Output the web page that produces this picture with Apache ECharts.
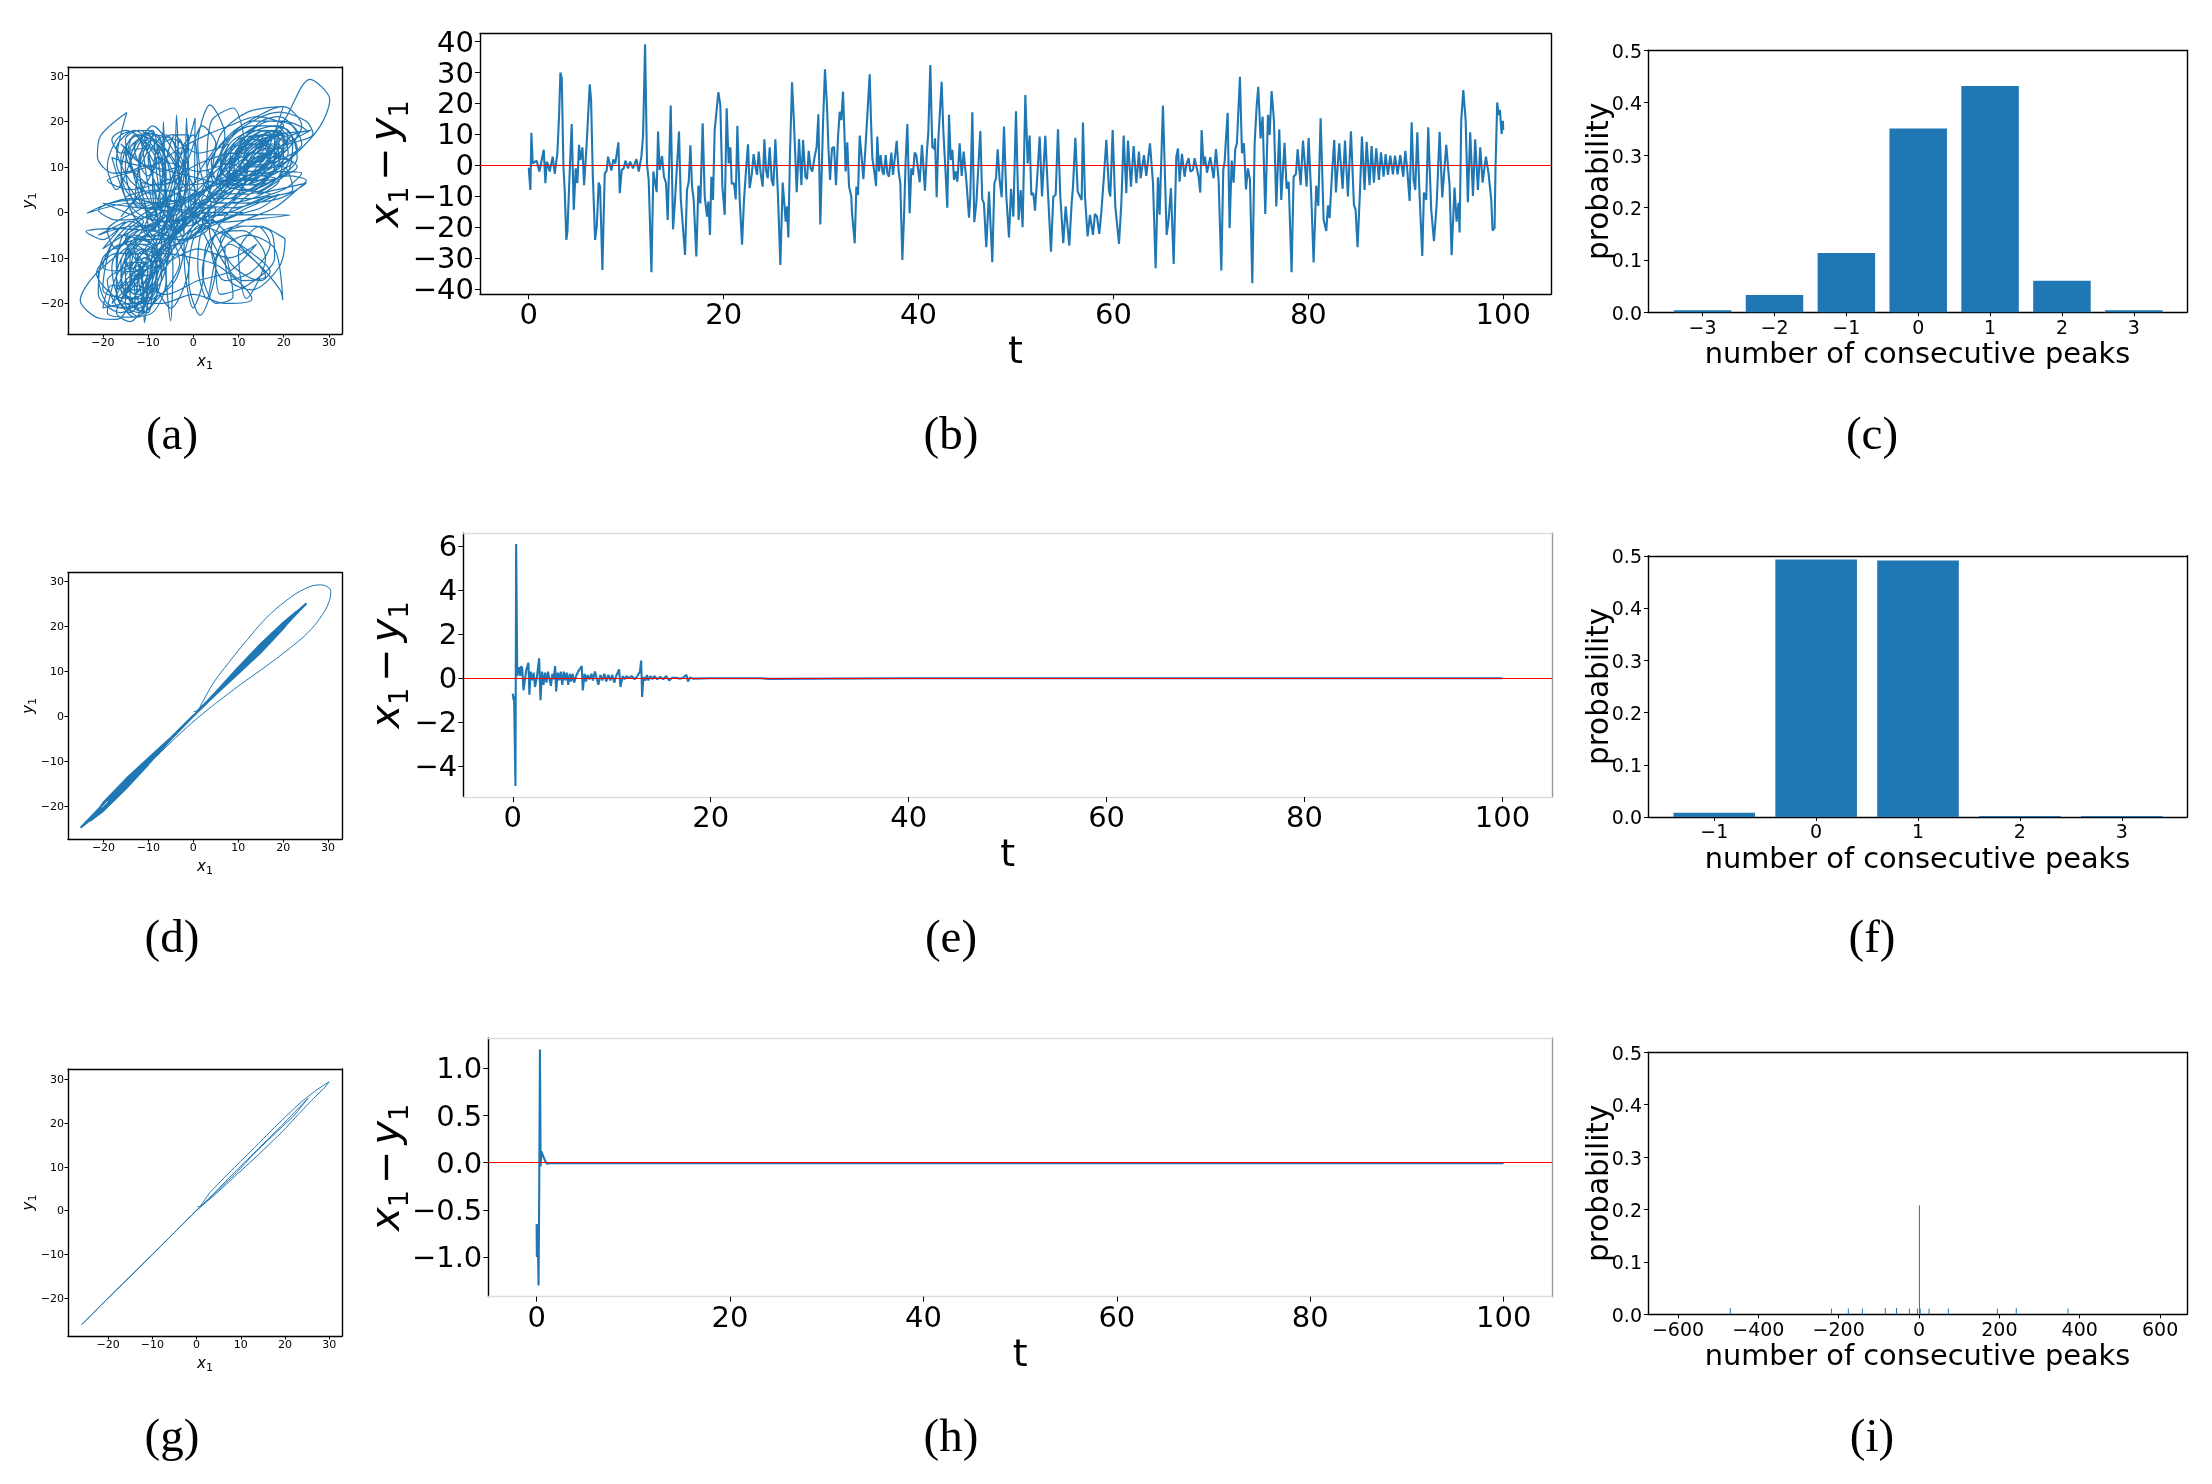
<!DOCTYPE html>
<html>
<head>
<meta charset="utf-8">
<script src="https://cdn.jsdelivr.net/npm/echarts@6/dist/echarts.min.js"></script>
<style>
  html, body { margin: 0; padding: 0; background: #fff; }
  #main { width: 2212px; height: 1484px; }
</style>
</head>
<body>
<div id="main"></div>
<script>
// phase portrait (a), [x1, y1]
var aTrace = [
  [1,1],[6,5],[13,12],[20,20],[25.8,29.2],[30.2,24.7],[28,18.8],[22,12.2],[14,6],[6,1],[0,-3],[-6,-10],[-12,-17],[-17,-23.5],[-20.6,-23.3],[-25,-19.3],[-22,-14],[-15,-8],[-8,-3],[-4,2],
  [-9,-8],[-13,-15],[-17,-22],[-14,-24],[-11,-20],[-12,-12],[-15,-6],[-12,-3],[-8,-7],[-9,-15],[-12,-22],[-16,-20],[-18,-12],[-14,-5],[-8,-3],[-6,-9],[-9,-17],[-14,-21],[-19,-20],[-21,-14],
  [-16,-7],[-10,-7],[-7,-12],[-10,-20],[-10.8,-24.2],[-11,-16],[-13,-8],[-10,-3],[-7,-6],[-8,-14],[-12,-20],[-16,-17],[-15,-10],[-11,-6],[-8,-10],[-10,-17],[-14,-19],[-17,-14],[-14,-8],[-9,-9],
  [-8,-16],[-12,-21],[-18,-18],[-21.4,-13.4],[-17,-9],[-11,-9],[-9,-13],[-12,-18],[-16,-16],[-14,-11],[-10,-11],[-11,-17],[-14,-17],[-13,-12],[-9,-6],[-4,-2],[-6,-13],[-5,-23.8],[-4.5,-12],[-7,-2],
  [-12,-7],[-17,-14],[-19,-22],[-15,-23],[-9,-22],[-6,-15],[-9,-6],[-14,-2],[-20,-6],[-23.7,-4.2],[-17,-3.5],[-9,-4],[-3,-3],[-8,-11],[-13,-19],[-20,-17],[-18,-7],[-12,-1],[-6,2],[-4,-6],
  [-8,-13],[-13,-14],[-15,-9],[-10,-4],[-5,-6],[-7,-15],[-11,-19],[-16,-22],[-21,-18],[-20,-10],[-13,-6],[-6,-5],[-3,-11],[-7,-18],[-13,-23],[-17,-17],[-16,-6],[-9,0],[-2,3],[4,6],
  [9,12],[15,17],[19,16],[17,10],[11,6],[6,8],[8,15],[14,18],[20,15],[19,8],[12,4],[6,5],[7,12],[12,17],[18,19],[22,14],[18,7],[10,6],[6,10],[10,16],[17,17],[20,12],[15,8],[9,9],[10,14],[16,15],
  [19,11],[14,7],[8,9],[9,15],[15,19],[21,18],[23,12],[16,6],[8,4],[4,8],[8,14],[14,15],[17,12],[13,9],[9,11],[12,15],[17,14],[15,10],[10,10],[13,14],[18,17],[25,18],[20,20],[13,20],
  [7,15],[6,9],[11,7],[18,9],[24,8.6],[20,5],[12,3],[5,3],[3,9],[8,17],[16,22],[20,23.2],[24,19],[20,13],[12,8],[6,6],[4,11],[10,18],[19,22],[25,20],[26.5,17.2],[18,14],[10,9],[5,7],
  [8,13],[14,13],[18,10],[13,5],[7,6],[10,13],[16,18],[22,16],[21,9],[14,4],[25,6.4],[19,3],[10,2],[3,3],[7,10],[13,16],[18,14],[14,11],[11,12],[15,16],[20,17],[16,12],[11,10],[8,7],
  [3,2],[-2,-3],[2,5],[7,17],[3.7,23.6],[1,15],[3,5],[8,3],[12,9],[8.8,22.9],[4,20],[3,10],[8,6],[15,11],[19.9,23.2],[12,22],[6,17],[4,9],[1,1],[-3,-4],[-8,-1],[-14,2],[-23.5,-0.2],[-18.4,2],
  [-9,3],[-3,2],[-10,-1],[-17,-1.7],[-21,0.5],[-14,3],[-5,1],[1.5,-0.2],[-7,-2],[-13,4],[-17,11],[-14.7,21.9],[-20.6,16.6],[-21.2,12.2],[-17.7,8.6],[-12,10],[-8.8,17.4],[-11,17],[-16,13],[-18,16],
  [-15,18],[-10,15],[-6,9],[-9,4],[-14,7],[-17,14],[-13,18],[-8,13],[-6,5],[-10,1],[-15,5],[-16,12],[-12,17],[-7,14],[-5,7],[-9,6],[-14,11],[-12,16],[-8,11],[-10,8],[-13,14],[-9,18],
  [-7,5],[-6.6,19.9],[-6,5],[-4.5,-3],[-3.7,21.4],[-3,6],[-2,-5],[-1.5,20.7],[-0.8,5],[0,-3],[0.4,20.7],[-2,12],[-5,3],[-7,-6],[-9,8],[-11,17.5],[-4,16],[1,13],[8,15],[3,8],
  [-4,5],[-11,4],[-16,-1],[-10,7],[-5,17],[-1,17],[-3,7],[-8,1],[-12,9],[-9,16],[-4,11],[-3,2],[-7,4],[-10,12],[-6,17],[-2,9],[-5,-1],[-9,-5],[-11,3],[-15,16],
  [-12,18],[-6,12],[-2,2],[2,-4],[5,-12],[1.5,-22.6],[-1,-15],[0,-6],[3,-3],[7,-9],[8.8,-18.5],[5,-20],[2,-13],[5,-5],[11,-4],[16,-10],[11.7,-18.9],[10,-9],[15,-3],[19,-5],
  [20.3,-6],[19,-12],[13,-17],[8,-15],[7,-8],[12,-5],[18,-8],[19.8,-19.3],[19.2,-17],[14,-11],[8,-7],[5,-11],[6,-18],[12,-16],[18,-10],[17,-4],[10,-3],[3,-7],[2,-16],[0,-21],
  [-2,-10],[1,-3],[9,-2],[21.4,-0.6],[14,-0.5],[4,-1],[10,-7],[16,-14],[11,-15],[4,-6],[3,1],[-3,-8],[-8,-16],[-5,-21],[-1,-12],[-4,-4],[1,2],[8,5],[14,8],[19,14],
  [22,17],[26,18],[17,13],[9,7],[3,1],[-4,-5],[-11,-12],[-15,-17],[-12,-13],[-7,-8],[-1,-1],[6,6],[12,11],[17,16],[14,14],[7,7],[0,0],[-7,-9],[-14,-16],[-18,-20],
  [-15,-15],[-9,-10],[-3,-4],[4,3],[11,10],[16,13],[12,10],[5,4],[-2,-2],[-10,-11],[-16,-19],[-13,-16],[-6,-7],[1,1],[8,8],[15,13],[18,18],[13,16],[6,10],[-2,3],
  [-13,2],[-11,15],[-8,17],[-6,8],[-8,-1],[-10,6],[-12,16],[-14,14],[-12,4],[-9,-2],[-7,7],[-4,17],[-2,13],[-4,2],[-7,-3],[-9,5],[-8,14],[-5,16],[-3,6],[-5,-2],
  [-8,3],[-10,13],[-13,17],[-15,10],[-12,1],[-7,1],[-4,9],[-3,16],[-1,9],[-3,0],[-6,-1],[-8,8],[-9,16],[-12,12],[-11,3],[-8,-3],[-5,5],[-2,15],[0,17],[1,7],
  [-1,-2],[-4,-5],[-6,3],[-7,12],[-10,17],[-14,16],[-16,8],[-13,-1],[-9,-4],[-6,4],[-3,12],[-1,15],[-2,4],[-5,-4],
  [-9,-12],[-11,-21],[-13,-17],[-12,-9],[-9,-8],[-10,-16],[-12,-23],[-15,-20],[-15,-12],[-12,-7],[-8,-9],[-8,-18],[-11,-22],[-14,-18],[-14,-10],[-11,-8],[-9,-14],[-10,-22],[-13,-21],[-16,-14],
  [-13,-7],[-10,-10],[-11,-18],[-14,-22],[-17,-18],[-17,-10],[-13,-5],[-9,-7],[-7,-14],[-10,-21],[-12,-15],[-11,-10],[-9,-11],[-12,-19],[-15,-18],[-16,-11],[-12,-6],[-8,-8],[-9,-18],[-13,-20],
  [-12,-12],[-13,-10],[-11,-14],[-14,-15],[-13,-9],[-10,-13],[-13,-18],[-15,-14],[-11,-11],[-12,-17],[-14,-13],[-10,-8],[-6,-6],[-2,-1],
  [3,3],[8,6],[11,5],[6,0],[0,-4],[-6,-6],[-10,-5],[-6,0],[0,3],[6,8],[2,4],[-3,-1],[-8,-6],[-11,-4],[-7,2],[-1,5],[4,2],[1,-4],[-4,-7],[-9,-9],
  [-5,-3],[0,1],[5,1],[3,-4],[-2,-6],[-7,-5],[-3,1],[3,5],[9,8],[4,1],[-1,-3],[-5,-1],[-1,3],[5,6],[12,9],[7,3],[1,0],[-4,-2],
  [7,9],[11,14],[15,16],[17,12],[13,7],[9,8],[10,14],[14,17],[18,16],[18,10],[13,6],[8,8],[11,15],[16,18],[20,16],[18,9],[12,5],[9,10],[13,16],[17,17],
  [19,12],[14,9],[10,9],[12,13],[16,16],[19,18],[21,13],[16,9],[11,8],[10,12],[14,15],[18,15],[16,10],[12,8],[8,10],[12,17],[17,20],[22,19],[24,15],[18,11],
  [12,10],[9,7],[7,11],[11,16],[15,20],[19,21],[23,17],[17,11],[13,10],[11,11],[14,14],[17,15],[15,11],[12,11],[15,15],[19,17],[17,13],[13,12],[16,14],[20,14],[15,9],[9,6],[5,2],
  [2,-2],[7,-5],[13,-9],[17,-13],[15,-15],[9,-12],[6,-6],[11,-2],[18,1],[23,5],[25,7],[21,8],[14,5],[7,-1],[4,-8],[7,-15],[13,-13],[17,-7],[14,-3],[8,-4],
  [5,-10],[3,-19],[1,-12],[2,-4],[8,-1],[15,1],[19,4],[12,1],[5,-2],[0,-1],[-6,-3],
  [-13,-3],[-21,-5],[-15,-2],[-20,-8],[-17,-6],[-11,-2],[-15,0],[-20,2],[-12,1],[-5,0],[-11,-3],
  [-18,12],[-10,10],[-3,14],[3,17],[8,19],[14,21],[20,19],[16,15],[8,11],[1,9],[-6,11],[-13,9],[-19,7],[-14,5],[-6,7],[2,11],[9,13],[17,13],[23,10],[16,7],
  [7,7],[-1,6],[-9,9],[-16,15],[-12,11],[-5,9],[3,7],[10,5],[17,4],[9,1],[1,2],[-7,5],[-15,3],[-11,-1],[-4,-2],[3,0],[11,0],[4,-3],[-3,-6],[-10,-6],
  [-16,-5],[-20,-12],[-13,-13],[-6,-11],[1,-8],[8,-10],[14,-7],[8,-13],[1,-15],[-6,-18],[-13,-16],[-18,-16],[-20,-21],[-14,-20],[-7,-20],[0,-18],[7,-20],[13,-19],[6,-12],[0,-10],
  [-7,-9],[-15,-12],[-19,-15],[-16,-21],[-9,-19],[-4,-15],[-2,-7],[-6,-2],[-12,-4],[-17,-8],[-19,-4],[-13,0],[-8,2],[-2,0],[3,-2],[0,6],[-4,13],[-9,19],[-13,13],[-17,5],
  [-19,10],[-16,17],[-10,18],[-5,12],[-1,5],[2,10],[5,15],[2,19],[-1,12],[-4,7],[-8,6],[-12,7],[-15,13],[-11,14],[-7,9],[-3,10],[-1,2],[-5,-7],[-10,-14],[-14,-12],
  [-17,-17],[-11,-13],[-6,-8],[-1,-6],[4,-1],[9,3],[14,9],[20,10],[22,5],[15,3],[8,0],[2,-1],[6,3],[12,7],[16,11],[21,15],[16,17],[11,13],[7,8],[10,11],
  [13,13],[17,18],[21,16],[15,12],[11,9],[14,12],[18,12],[22,11],[17,8],[12,6],[15,8],[19,7],[13,3],[6,2],[3,6],[5,11],[9,17],[13,19],[19,19],[23,14],[19,10]
];

// difference x1 - y1 against time (b), [t, value]
var bTrace = [
  [0,-0.8],[0.03,-1],[0.17,-8],[0.27,10.5],[0.41,0.6],[0.55,0.1],[0.82,1.5],[0.96,1.2],[1.09,-2],[1.3,1.2],[1.54,5],[1.71,-5.8],[1.85,1.2],[1.98,0.1],[2.15,-2],[2.46,2.8],[2.67,-2.8],[2.94,3.9],[3.11,15.7],[3.25,30],
  [3.39,28.1],[3.56,-0.4],[3.69,-8],[3.86,-24.1],[3.97,-21.4],[4.17,-4.7],[4.41,13.3],[4.62,-14.4],[4.82,-1],[4.99,-5.8],[5.16,6.6],[5.3,1.7],[5.51,5.8],[5.68,-6.4],[5.95,7.1],[6.26,26.2],[6.4,21.1],[6.57,-2.6],[6.81,-24.1],[6.98,-19.8],
  [7.18,-5.6],[7.32,-6.9],[7.56,-33.8],[7.8,-2.6],[8,-1.7],[8.14,2.8],[8.28,2.6],[8.48,-1.7],[8.69,1.9],[8.89,0.6],[9.2,7.4],[9.34,-9],[9.54,-1.5],[9.75,-1],[9.92,1.5],[10.19,-1],[10.4,1.2],[10.7,-1],[11.05,2],[11.29,-2],
  [11.56,2.8],[11.73,9.3],[11.94,39.1],[12.14,0.1],[12.31,-4.7],[12.59,-34.6],[12.79,-2],[12.96,-2.6],[13.13,-8.7],[13.27,10.9],[13.44,-1.5],[13.68,3],[13.88,-3.7],[14.09,-5.8],[14.26,-17.7],[14.57,19.3],[14.81,-20.7],[14.98,-12.8],[15.18,-12.3],[15.42,10.9],
  [15.6,-10.7],[15.77,-10.7],[16.04,-29],[16.24,-8],[16.42,-5.3],[16.59,6.5],[16.76,-6.9],[16.93,-11.2],[17.2,-29.5],[17.41,-6.6],[17.61,-12.3],[17.85,13.6],[18.06,-10.1],[18.3,-16.6],[18.43,-11.7],[18.6,-22.5],[18.74,-3.7],[18.91,-11.2],[19.08,11.4],[19.25,11.9],
  [19.46,23.6],[19.66,19.5],[19.87,-6.9],[20.11,-16],[20.31,18.4],[20.52,0.6],[20.69,5.8],[20.83,-6],[21.07,-5.8],[21.24,-11],[21.41,12.8],[21.65,-11.2],[21.89,-25.7],[22.09,-11.2],[22.3,-1.5],[22.5,6.8],[22.67,-7.4],[22.88,-3.1],[23.08,3.6],[23.29,-1],
  [23.43,-3.1],[23.6,4.4],[23.8,-2.6],[24.01,-6.9],[24.18,8.4],[24.35,-1.5],[24.52,-4.2],[24.73,5.8],[24.93,-4.7],[25.1,-6.7],[25.31,8.4],[25.58,-10.1],[25.82,-32.2],[26.06,-5.6],[26.2,-5.8],[26.37,-18.2],[26.5,-13.3],[26.64,-23.3],[26.81,3.9],[27.02,26.8],
  [27.22,13.6],[27.5,-8.7],[27.74,8.5],[27.98,-6.4],[28.15,8.2],[28.39,-3.7],[28.56,-4.5],[28.73,4.7],[28.93,-1],[29.1,-2],[29.34,2.8],[29.55,6],[29.72,16.5],[29.92,-19.1],[30.2,13.6],[30.4,31],[30.61,18.9],[30.75,6],[30.92,-4.7],[31.12,5.5],
  [31.33,6],[31.53,-6.4],[31.74,9.3],[31.91,17.3],[32.08,14.6],[32.25,23.8],[32.42,8.2],[32.52,-2],[32.69,7.4],[32.87,-6.9],[33.1,-10.1],[33.17,-15.2],[33.34,-15.5],[33.45,-25.2],[33.62,-6.9],[33.79,-9.6],[33.96,9.6],[34.13,3.9],[34.34,-4.5],[34.54,5],
  [34.71,5.5],[34.99,29.4],[35.12,14.6],[35.26,2.3],[35.46,-2],[35.64,-6.7],[35.77,9.3],[35.94,-2],[36.11,3.3],[36.29,-2],[36.42,-3.1],[36.63,3.3],[36.8,-2.6],[36.97,-3.7],[37.21,4.1],[37.38,-3.1],[37.55,-3.7],[37.76,7.9],[37.96,-2],[38.13,-5.8],
  [38.34,-30.6],[38.51,-16.6],[38.68,1.7],[38.85,13.3],[39.09,-15.5],[39.26,-1],[39.43,-3.1],[39.6,4.1],[39.77,3.3],[39.94,3.9],[40.12,-5.5],[40.35,6.6],[40.49,6.6],[40.66,-8.2],[40.87,5],[41,10.3],[41.21,32.4],[41.41,6],[41.62,5.2],[41.69,8.7],
  [41.86,-10.3],[42.03,8.2],[42.37,27],[42.54,11.4],[42.78,-2.6],[42.95,-13.7],[43.13,16.3],[43.3,1.7],[43.47,5],[43.64,-4.7],[43.81,-2],[43.98,-5.3],[44.22,7.1],[44.43,-3.4],[44.63,4.4],[44.9,-4.7],[45.18,-16.9],[45.31,-10.1],[45.52,17.1],[45.72,-18.4],
  [45.93,-12.3],[46.13,-12.3],[46.34,11.1],[46.54,-11],[46.71,-12.3],[46.95,-26.5],[47.23,-8.5],[47.37,-9],[47.57,-31.3],[47.78,-5.8],[47.95,-4.2],[48.12,5.2],[48.32,-4.7],[48.53,-10.3],[48.77,12.5],[49.01,-10.1],[49.28,-23.3],[49.49,-7.6],[49.73,-16.6],[50,17.5],
  [50.27,-17.7],[50.48,-8],[50.68,-20],[50.96,22.7],[51.2,0.6],[51.4,9.6],[51.57,-9.6],[51.78,-9],[51.95,-14.7],[52.15,-5.3],[52.43,9.3],[52.67,-10.1],[53.01,9.5],[53.25,-6.9],[53.59,-27.9],[53.83,-10.1],[54.07,-9.6],[54.31,11.6],[54.55,-10.1],[54.85,-25.2],
  [55.1,-13.3],[55.23,-13.3],[55.47,-26],[55.71,-12.3],[55.85,-6.9],[56.09,8.9],[56.33,-8.5],[56.53,-8.8],[56.74,-11.2],[56.87,13.8],[57.08,-10.1],[57.35,-23],[57.59,-16],[57.9,-22.5],[58.1,-15.7],[58.31,-16.6],[58.55,-22.2],[58.76,-15],[59,-4.7],[59.27,8.2],
  [59.54,-8],[59.68,-10.1],[59.92,11.4],[60.19,-13.3],[60.57,-25.4],[60.81,-12.3],[61.05,9.6],[61.32,-9],[61.49,8],[61.8,-6.9],[62.07,6.2],[62.35,-5.8],[62.62,4.4],[62.79,-4.2],[63.13,3.3],[63.37,-3.4],[63.54,-3.9],[63.75,7.1],[64.06,-5.8],[64.33,-33.3],
  [64.57,-3.9],[64.74,-16],[65.08,19.3],[65.46,-22.5],[65.66,-17.7],[65.9,-7.4],[66.18,-31.9],[66.45,2.8],[66.62,5.4],[66.79,-5.3],[67.03,3.7],[67.3,-3.7],[67.47,0.1],[67.72,2.3],[67.89,-2],[68.16,-1.5],[68.33,2.3],[68.5,-0.2],[68.74,-3.7],[68.91,-8.8],
  [69.05,11.4],[69.25,0.1],[69.39,2.8],[69.6,-2.4],[69.94,2.6],[70.28,-4.2],[70.52,5.2],[70.79,-4.7],[71.07,-34],[71.27,-1.5],[71.41,1.2],[71.54,8.2],[71.72,17],[71.92,-20.3],[72.13,1.5],[72.33,-5.6],[72.5,5.2],[72.67,7.1],[72.98,28.6],[73.19,3.9],
  [73.39,7.1],[73.6,-7.8],[73.8,-1],[74.01,-4.7],[74.25,-38.1],[74.49,7.1],[74.69,18.9],[74.86,25.4],[75.1,8.7],[75.31,15.7],[75.58,-15.7],[75.86,16.3],[76.03,9.8],[76.23,24],[76.47,14.6],[76.71,-13.3],[77.02,11.6],[77.22,-11.2],[77.56,7.3],[77.77,-7.6],
  [77.98,-5.3],[78.28,-34.6],[78.49,-3.7],[78.73,-2.8],[78.9,5.2],[79.21,-6.4],[79.45,8],[79.58,7.9],[79.82,-6.9],[80.03,8.8],[80.3,-10.1],[80.54,-31.4],[80.81,-6.6],[81.02,-13.1],[81.26,15.2],[81.57,-17.7],[81.84,-21.2],[82.01,-13],[82.18,-17.1],[82.42,-3.1],
  [82.66,8.2],[82.83,-8.8],[83.17,7.1],[83.52,-7.6],[83.76,8],[84.06,-10.1],[84.37,11],[84.68,-12.8],[84.85,-14.4],[85.05,-26.5],[85.29,-9],[85.5,9.3],[85.77,-8],[85.98,7.6],[86.28,-6.4],[86.49,6.2],[86.73,-5.6],[86.97,5.5],[87.24,-4.7],[87.45,4.2],
  [87.72,-3.7],[87.93,3.6],[88.17,-3.1],[88.41,3.1],[88.68,-2.9],[88.89,3.1],[89.16,-2.9],[89.43,3.3],[89.74,-3.7],[89.95,4.7],[90.15,-1.5],[90.39,-11.5],[90.6,13.9],[90.8,-4.7],[90.97,-8],[91.18,10.7],[91.42,-10.1],[91.69,-29.3],[91.86,-8.8],[92.1,-11.2],
  [92.3,12.3],[92.61,-14.4],[92.89,-24.5],[93.16,-13],[93.47,10.8],[93.74,-10.4],[94.15,6.6],[94.49,-6.4],[94.7,-29.1],[95,-7.2],[95.21,-18.2],[95.42,-12.1],[95.52,-21.7],[95.69,14.6],[95.9,24.3],[96.14,14.6],[96.37,-11.9],[96.61,10.7],[96.89,-9.9],[97.12,8.4],
  [97.4,-8],[97.64,5.8],[97.88,-5.6],[98.22,2.8],[98.49,-2.6],[98.77,-11.2],[98.9,-21.1],[99.11,-20.3],[99.21,-0.4],[99.38,20.3],[99.52,16.3],[99.66,17.9],[99.83,10.1],[99.96,14.4],[100,11.4]
];

var cBins = [-3, -2, -1, 0, 1, 2, 3];
var cProb = [0.004, 0.033, 0.113, 0.351, 0.432, 0.06, 0.004];

// phase portrait (d): the outer loop and the thick band along the diagonal
var dLoop = [
  [0.1,1],[0.8,1.1],[2,3],[4.45,7.3],[8,12],[12,16.9],[16,21.5],[20.8,25.7],[25,28.3],[28.2,29.1],[30,28.6],[30.6,27.6],[30,24.8],[28.2,21.7],[25.5,18.5],[22.3,15.7],[16,10.9],[8.9,5.8],[1,-0.4],[-4,-4.9],[-8.2,-9]
];
var dBand = [
  [0,0],[-5,-5.1],[-10,-10.5],[-15,-15.8],[-20,-20.7],[-25.1,-24.8],[-20,-19.5],[-15,-14.3],[-10,-9.6],[-5,-4.9],[0,0],
  [-5,-5.2],[-10,-10.7],[-15,-16.1],[-20,-21],[-23,-23.3],[-20,-19.2],[-15,-14],[-10,-9.4],[-5,-4.8],[0,0.1],
  [-5,-5.05],[-10,-10.2],[-15,-15.4],[-20,-20.3],[-22,-21.7],[-18,-17.2],[-15,-14.7],[-10,-9.8],[-5,-5],[0,0],
  [-10,-10],[-15,-15.1],[-19,-19],[-15,-14.9],[-10,-10.1],[0,0],
  [5,5.25],[10,10.6],[15,15.7],[20,20.5],[25.2,25],[20,19.6],[15,14.4],[10,9.6],[5,4.85],[0,0],
  [5,5.3],[10,10.75],[15,16],[20,20.7],[23,23.2],[20,19.4],[15,14.1],[10,9.4],[5,4.8],[0,0],
  [5,5.15],[10,10.3],[15,15.4],[20,20.2],[22,21.7],[18,17.4],[15,14.7],[10,9.8],[5,4.95],[0,0],
  [10,10.05],[15,15.1],[19,19],[15,14.9],[10,9.95],[0.8,1]
];

// difference x1 - y1 against time (e), [t, value]
var eTrace = [
  [0,-0.7],[0.08,-1],[0.13,-0.8],[0.27,-4.9],[0.34,6.1],[0.45,0.1],[0.55,0.3],[0.65,0.5],[0.75,0.1],[0.85,0.55],[0.95,0.45],[1.08,-0.55],[1.2,-0.6],[1.35,0.35],[1.58,0.7],[1.68,-0.75],[1.8,0.3],[1.95,-0.1],[2.1,0.25],[2.25,-0.4],
  [2.45,0.1],[2.66,0.9],[2.8,-1],[2.95,0.3],[3.1,-0.3],[3.25,0.25],[3.4,-0.2],[3.55,0.3],[3.7,0.25],[3.85,-0.35],[4,0.2],[4.12,-0.05],[4.28,0.55],[4.38,-0.6],[4.55,0.25],[4.7,-0.1],[4.85,0.3],[5,-0.3],[5.15,0.3],[5.3,-0.1],
  [5.45,0.25],[5.6,-0.3],[5.75,0.2],[5.9,-0.15],[6.05,0.2],[6.2,-0.2],[6.4,0.1],[6.6,0.3],[6.97,0.55],[7.07,-0.55],[7.25,0.2],[7.4,-0.15],[7.55,0.15],[7.75,-0.05],[7.95,0.2],[8.1,-0.1],[8.3,0.3],[8.65,-0.3],[8.85,0.15],[9.05,-0.1],
  [9.25,0.2],[9.45,-0.15],[9.65,0.15],[9.85,-0.1],[10.05,0.15],[10.25,-0.2],[10.45,0.1],[10.74,0.4],[10.88,-0.4],[11.1,0.1],[11.3,-0.05],[11.5,0.1],[11.75,0],[12,0.1],[12.3,-0.05],[12.6,0.1],[12.85,0.3],[12.97,0.8],[13.07,-0.85],[13.2,0.05],
  [13.4,-0.1],[13.55,0.15],[13.7,-0.1],[13.9,0.1],[14.1,-0.05],[14.3,0.1],[14.6,-0.05],[14.9,0.07],[15.2,-0.05],[15.5,0.1],[15.8,-0.1],[16.1,0.02],[16.5,0.02],[16.9,-0.02],[17.2,0.02],[17.55,0.15],[17.7,-0.15],[17.9,0.03],[18.2,-0.02],[20,0],
  [25,0],[25.9,-0.03],[26,0],[40,0],[70,0],[100,0]
];

var fBins = [-1, 0, 1, 2, 3];
var fProb = [0.008, 0.493, 0.491, 0.002, 0.002];

// phase portrait (g)
var gTrace = [
  [0.1,0.9],[0.8,1],[3,4.1],[8,9.3],[13.6,14.9],[18,19.4],[23.4,24.6],[27,27.5],[30,29.5],[29,28.2],[26.8,26],[23,22],[19.6,18.3],[14,12.8],[8.3,7.5],[4,3.5],[0,0.1],[-5,-5],[-10,-10.1],[-15,-15.1],
  [-20,-20],[-26,-26.1],[-20,-20],[-15,-15],[-10,-10],[-5,-5],[0,0],[4,4],[9,9.2],[14,14.2],[19,19.2],[25.2,25.7],[22,21.7],[18,17.9],[13,13],[9,8.7],[4,3.8],[0,0.05]
];

// difference x1 - y1 against time (h), [t, value]
var hTrace = [
  [0,-0.65],[0.02,-1],[0.04,-0.66],[0.07,-1],[0.09,-0.66],[0.12,-0.8],[0.2,-1.3],[0.27,-0.2],[0.34,1.2],[0.41,-0.04],[0.48,0.12],[0.55,0.11],[0.75,0.05],[1.03,-0.01],[1.2,0.01],[1.5,-0.003],[3,-0.005],[20,-0.005],[60,-0.005],[100,-0.005]
];

var iBins = [-470, -218, -176, -141, -84, -56, -24, -4, 1, 3, 25, 73, 195, 242, 371];
var iProb = [0.012, 0.011, 0.011, 0.011, 0.012, 0.012, 0.011, 0.011, 0.208, 0.011, 0.011, 0.011, 0.011, 0.012, 0.011];

var phaseTicks = [-20, -10, 0, 10, 20, 30];
var timeTicks = [0, 20, 40, 60, 80, 100];
var bDiffTicks = [-40, -30, -20, -10, 0, 10, 20, 30, 40];
var eDiffTicks = [-4, -2, 0, 2, 4, 6];
var hDiffTicks = [-1, -0.5, 0, 0.5, 1];
var probTicks = [0, 0.1, 0.2, 0.3, 0.4, 0.5];
var iBinTicks = [-600, -400, -200, 0, 200, 400, 600];
var panelLabels = ['(a)', '(b)', '(c)', '(d)', '(e)', '(f)', '(g)', '(h)', '(i)'];

var BLUE = '#1f77b4';
var FONT = '"DejaVu Sans"';
var chart = echarts.init(document.getElementById('main'));

var grids = [], xAxes = [], yAxes = [], series = [];

function tickText(digits) {
  return function(v) { return (digits ? v.toFixed(digits) : String(v)).replace('-', '\u2212'); };
}

function mathName(size, subSize, gapPad) {
  return {
    text: '{i|x}{s|1}{o|\u2212}{i|y}{s|1}',
    rich: {
      i: { fontFamily: FONT, fontStyle: 'italic', fontSize: size, color: '#000', lineHeight: size * 1.3 },
      s: { fontFamily: FONT, fontSize: subSize, color: '#000', verticalAlign: 'bottom', lineHeight: subSize },
      o: { fontFamily: FONT, fontSize: size, color: '#000', padding: [0, gapPad, 0, gapPad], lineHeight: size * 1.3 }
    }
  };
}

// one panel: grid plus four axes so each spine can have its own colour
function addPanel(p) {
  var idx = grids.length;
  grids.push({ left: p.box[0], top: p.box[1], width: p.box[2] - p.box[0], height: p.box[3] - p.box[1] });
  var spine = p.spine || '#000';
  var lw = p.lineW || 1.4;
  xAxes.push({
    type: 'value', gridIndex: idx, min: p.xr[0], max: p.xr[1], scale: true,
    splitLine: { show: false },
    axisLine: { onZero: false, lineStyle: { color: spine, width: lw } },
    axisTick: { customValues: p.xTicks, length: p.tick, lineStyle: { color: '#000', width: 1 } },
    axisLabel: { customValues: p.xTicks, formatter: tickText(0), fontFamily: FONT, fontSize: p.font, color: '#000', margin: p.xMargin },
    name: p.xName, nameLocation: 'middle', nameGap: p.xGap, nameMoveOverlap: false,
    nameTextStyle: p.xNameStyle
  });
  xAxes.push({
    type: 'value', gridIndex: idx, position: 'top', min: p.xr[0], max: p.xr[1], scale: true,
    splitLine: { show: false }, axisTick: { show: false }, axisLabel: { show: false },
    axisLine: { onZero: false, lineStyle: { color: spine, width: lw } }
  });
  yAxes.push({
    type: 'value', gridIndex: idx, min: p.yr[0], max: p.yr[1], scale: true,
    splitLine: { show: false },
    axisLine: { onZero: false, lineStyle: { color: '#000', width: lw } },
    axisTick: { customValues: p.yTicks, length: p.tick, lineStyle: { color: '#000', width: 1 } },
    // top aligned with a small line height, drops the digits onto the tick
    axisLabel: { customValues: p.yTicks, formatter: tickText(p.yDigits), fontFamily: FONT, fontSize: p.font, color: '#000', margin: p.yMargin, verticalAlign: 'top', lineHeight: p.yLine },
    name: p.yName, nameLocation: 'middle', nameGap: p.yGap, nameRotate: 90, nameMoveOverlap: false,
    nameTextStyle: p.yNameStyle
  });
  yAxes.push({
    type: 'value', gridIndex: idx, position: 'right', min: p.yr[0], max: p.yr[1], scale: true,
    splitLine: { show: false }, axisTick: { show: false }, axisLabel: { show: false },
    axisLine: { onZero: false, lineStyle: { color: p.rightSpine || '#000', width: lw } }
  });
  return idx * 2;
}

function addPhase(box, xr, yr, traces) {
  var sub = { rich: { i: { fontFamily: FONT, fontStyle: 'italic', fontSize: 15, color: '#000', lineHeight: 20 }, s: { fontFamily: FONT, fontSize: 11, color: '#000', verticalAlign: 'bottom', lineHeight: 11 } } };
  var ax = addPanel({
    box: box, xr: xr, yr: yr, xTicks: phaseTicks, yTicks: phaseTicks, tick: 3.5, font: 11, xMargin: 4, yMargin: 4, yDigits: 0, yLine: 2,
    xName: '{i|x}{s|1}', xGap: 18, yName: '{i|y}{s|1}', yGap: 29,
    xNameStyle: sub, yNameStyle: sub
  });
  traces.forEach(function(t) {
    series.push({
      type: 'line', xAxisIndex: ax, yAxisIndex: ax, data: t.data, showSymbol: false, smooth: t.smooth, silent: true,
      lineStyle: { color: BLUE, width: t.width }
    });
  });
}

function addDiff(box, xr, yr, yTicks, yDigits, yGap, trace, rightSpine, spine) {
  var m = mathName(40, 27, 6);
  var ax = addPanel({
    box: box, xr: xr, yr: yr, xTicks: timeTicks, yTicks: yTicks, tick: 5, font: 29, xMargin: 8, yMargin: 6, yDigits: yDigits, yLine: 5,
    xName: 't', xGap: 40, xNameStyle: { fontFamily: FONT, fontSize: 38, color: '#000' },
    yName: m.text, yGap: yGap, yNameStyle: { rich: m.rich },
    spine: spine, rightSpine: rightSpine
  });
  series.push({
    type: 'line', xAxisIndex: ax, yAxisIndex: ax, data: trace, showSymbol: false, silent: true,
    lineStyle: { color: BLUE, width: 2.1 },
    markLine: {
      silent: true, symbol: 'none', animation: false, label: { show: false }, precision: 4,
      lineStyle: { color: '#f00', width: 1.2, type: 'solid' }, data: [{ yAxis: 0 }]
    }
  });
}

function addHist(box, xr, xTicks, bins, probs, barPx) {
  var ax = addPanel({
    box: box, xr: xr, yr: [0, 0.5], xTicks: xTicks, yTicks: probTicks, tick: 4, font: 19, xMargin: 7, yMargin: 6, yDigits: 1, yLine: 5,
    xName: 'number of consecutive peaks', xGap: 29, xNameStyle: { fontFamily: FONT, fontSize: 28.8, color: '#000' },
    yName: 'probability', yGap: 33, yNameStyle: { fontFamily: FONT, fontSize: 29.5, color: '#000' }
  });
  series.push({
    type: 'bar', xAxisIndex: ax, yAxisIndex: ax, barWidth: barPx, silent: true,
    itemStyle: { color: BLUE },
    data: bins.map(function(b, i) { return [b, probs[i]]; })
  });
}

addPhase([68, 67, 342, 334], [-27.7, 32.9], [-26.7, 31.9], [{ data: aTrace, width: 1.2, smooth: 0.3 }]);
addDiff([480, 33.5, 1551, 294.3], [-5, 104.9], [-41.7, 42.6], bDiffTicks, 0, 66, bTrace);
addHist([1648, 50.3, 2187, 312.3], [-3.76, 3.74], cBins, cBins, cProb, 57.5);

addPhase([68, 572.7, 342, 839], [-27.9, 33.1], [-27.3, 31.8], [{ data: dLoop, width: 1, smooth: 0.4 }, { data: dBand, width: 2, smooth: 0 }]);
addDiff([463.3, 533, 1552, 797], [-5, 105], [-5.4, 6.6], eDiffTicks, 0, 49, eTrace, '#999', '#ddd');
addHist([1648, 555.8, 2187, 817], [-1.65, 3.64], fBins, fBins, fProb, 81.6);

addPhase([68, 1069, 342, 1336], [-29.1, 32.9], [-28.7, 32.4], [{ data: gTrace, width: 1, smooth: 0.2 }]);
addDiff([488.3, 1038, 1552, 1296.7], [-5, 105], [-1.42, 1.322], hDiffTicks, 1, 74, hTrace, '#999', '#ddd');
addHist([1648, 1052.3, 2187, 1314.3], [-674.6, 667], iBinTicks, iBins, iProb, 1);

var labelX = [172, 951, 1872];
var labelY = [437, 940, 1439];
var labels = panelLabels.map(function(txt, i) {
  return {
    type: 'text', x: labelX[i % 3], y: labelY[Math.floor(i / 3)], silent: true,
    style: { text: txt, font: '47px "Liberation Serif"', fill: '#000', textAlign: 'center', textVerticalAlign: 'middle' }
  };
});

chart.setOption({
  animation: false,
  backgroundColor: '#fff',
  grid: grids,
  xAxis: xAxes,
  yAxis: yAxes,
  series: series,
  graphic: labels
});

window.addEventListener('resize', function() { chart.resize(); });
</script>
</body>
</html>
